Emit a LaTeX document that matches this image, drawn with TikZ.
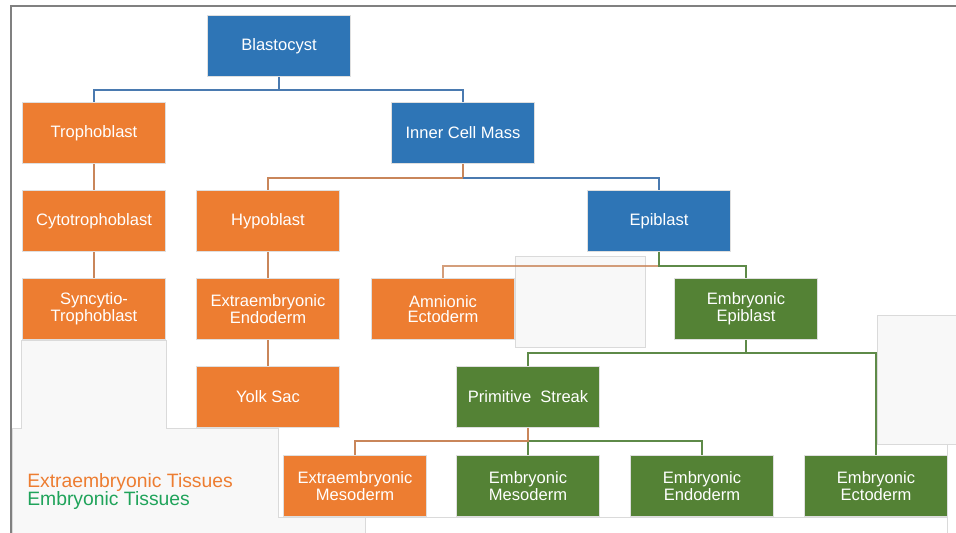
\documentclass[tikz,border=0pt]{standalone}
\usepackage{fontspec}
\setmainfont{Liberation Sans}
\definecolor{azul}{HTML}{2E75B6}
\definecolor{naranja}{HTML}{ED7D31}
\definecolor{verde}{HTML}{548235}
\definecolor{lineaazul}{HTML}{4A7AB0}
\definecolor{lineanaranja}{HTML}{C9865A}
\definecolor{lineaverde}{HTML}{5E8A48}
\definecolor{leyendaverde}{HTML}{1FA35A}
\definecolor{fondo}{HTML}{F8F8F8}
\definecolor{borde}{HTML}{DADADA}
\begin{document}
\begin{tikzpicture}[x=0.75pt, y=-0.75pt,
    caja/.style={draw=gray!25, line width=1pt, minimum width=107pt, minimum height=45.5pt,
        inner sep=0pt, align=center, text=white, font=\fontsize{12.4}{11.4}\selectfont},
    cajaazul/.style={caja, fill=azul},
    cajanaranja/.style={caja, fill=naranja},
    cajaverde/.style={caja, fill=verde},
    conazul/.style={draw=lineaazul, line width=1.5pt},
    connaranja/.style={draw=lineanaranja, line width=1.5pt},
    converde/.style={draw=lineaverde, line width=1.5pt}]
    \useasboundingbox (0,0) rectangle (956,532);

    % Restos de ventanas (fondo)
    \filldraw[fill=fondo, draw=borde, line width=0.7pt]
        (21,340) -- (166,340) -- (166,428) -- (278,428) -- (278,517) -- (365,517)
        -- (365,534) -- (12,534) -- (12,428) -- (21,428) -- cycle;
    \filldraw[fill=fondo, draw=borde, line width=0.7pt] (877,315) -- (958,315) -- (958,444) -- (877,444) -- cycle;
    \draw[borde, line width=0.7pt] (877,444) -- (947,444) -- (947,534);
    \draw[borde, line width=0.7pt] (365,517) -- (947,517);

    % Marco
    \draw[gray, line width=1.5pt] (11,534) -- (11,6) -- (958,6);

    % Cajas
    \node[cajaazul] (blasto) at (279,46) {Blastocyst};
    \node[cajanaranja] (trofo) at (94,133) {Trophoblast};
    \node[cajaazul] (mci) at (463,133) {Inner Cell Mass};
    \node[cajanaranja] (citotrofo) at (94,221) {Cytotrophoblast};
    \node[cajanaranja] (hipo) at (268,221) {Hypoblast};
    \node[cajaazul] (epi) at (659,221) {Epiblast};
    \node[cajanaranja] (sincitio) at (94,309) {Syncytio-\\Trophoblast};
    \node[cajanaranja] (endoextra) at (268,309) {Extraembryonic\\Endoderm};
    \node[cajanaranja] (amnio) at (443,309) {Amnionic\\Ectoderm};
    \node[cajaverde] (epiemb) at (746,309) {Embryonic\\Epiblast};
    \node[cajanaranja] (saco) at (268,397) {Yolk Sac};
    \node[cajaverde] (linea) at (528,397) {Primitive~~Streak};
    \node[cajanaranja] (mesoextra) at (355,486) {Extraembryonic\\Mesoderm};
    \node[cajaverde] (meso) at (528,486) {Embryonic\\Mesoderm};
    \node[cajaverde] (endo) at (702,486) {Embryonic\\Endoderm};
    \node[cajaverde] (ecto) at (876,486) {Embryonic\\Ectoderm};

    % Resto de ventana encima de Amnionic Ectoderm
    \filldraw[fill=fondo, draw=borde, line width=0.7pt] (515,256) rectangle (645,347);

    % Conexiones
    \draw[conazul] (blasto.south) -- ++(0,13) -| (trofo.north);
    \draw[conazul] (blasto.south) ++(0,13) -| (mci.north);
    \draw[connaranja] (trofo) -- (citotrofo);
    \draw[connaranja] (citotrofo) -- (sincitio);
    \draw[connaranja] (mci.south) -- ++(0,14) -| (hipo.north);
    \draw[conazul] (mci.south) ++(0,14) -| (epi.north);
    \draw[connaranja] (hipo) -- (endoextra);
    \draw[connaranja] (endoextra) -- (saco);
    \draw[connaranja, draw opacity=0.8] (epi.south) ++(0,14) -| (amnio.north);
    \draw[converde] (epi.south) -- ++(0,14) -| (epiemb.north);
    \draw[converde] (epiemb.south) -- ++(0,13) -| (linea.north);
    \draw[converde] (epiemb.south) ++(0,13) -| (ecto.north);
    \draw[converde] (linea.south) ++(0,13) -| (meso.north);
    \draw[converde] (linea.south) ++(0,13) -| (endo.north);
    \draw[connaranja] (linea.south) -- ++(0,13) -| (mesoextra.north);

    % Leyenda
    \node[anchor=west, inner sep=0pt, text=naranja, font=\fontsize{14.5}{16}\selectfont] (leyextra) at (27,482) {Extraembryonic Tissues};
    \node[anchor=west, inner sep=0pt, text=leyendaverde, font=\fontsize{14.5}{16}\selectfont] (leyemb) at (27,500) {Embryonic Tissues};
\end{tikzpicture}
\end{document}
